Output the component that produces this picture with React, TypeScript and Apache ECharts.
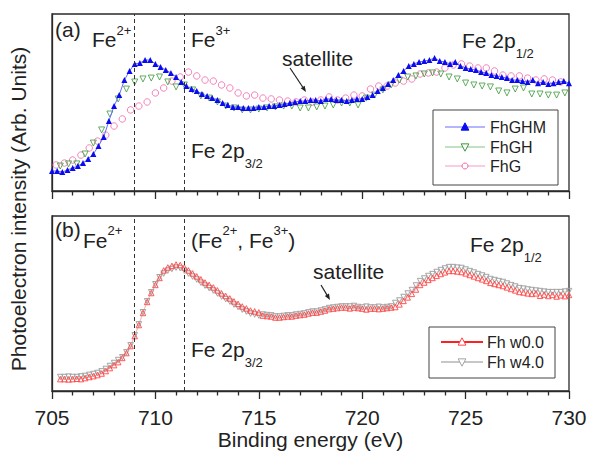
import React, { useEffect, useRef } from "react";
import * as echarts from "echarts";

const FONT = '"Liberation Sans", Arial, Helvetica, sans-serif';
const INK = "#222222";
const AXIS = "#2a2a2a";

const xMin = 705;
const xMax = 730;
const xStep = 5;
const xAxisName = "Binding energy (eV)";
const yAxisName = "Photoelectron intensity (Arb. Units)";

const fe2Edge = 709.0;
const fe3Edge = 711.4;

// Panel (a)
const fhghmStart = 705.0;
const fhghmStep = 0.25;
const fhghm = [
  11.3, 11.3, 10.7, 11.9, 13.0, 14.1, 15.8, 18.1, 20.9, 25.4,
  30.5, 39.5, 48.0, 54.2, 62.7, 67.8, 71.8, 72.3, 74.0, 74.0,
  71.8, 70.1, 68.4, 66.7, 64.4, 61.6, 59.3, 57.6, 56.5, 54.8,
  53.7, 52.5, 51.4, 49.7, 48.6, 47.5, 47.5, 46.9, 46.9, 46.9,
  47.5, 47.5, 48.0, 48.0, 48.6, 49.2, 49.7, 50.3, 50.8, 50.8,
  51.4, 51.4, 50.8, 52.0, 52.0, 51.4, 51.4, 50.8, 51.4, 52.0,
  52.0, 53.1, 54.2, 56.5, 58.2, 60.5, 62.7, 65.5, 67.8, 70.6,
  71.8, 72.9, 73.4, 74.0, 75.1, 73.4, 72.9, 71.8, 72.9, 70.6,
  69.5, 68.9, 68.4, 67.2, 66.7, 65.5, 65.0, 64.4, 63.8, 62.7,
  62.7, 62.1, 61.6, 62.7, 60.9, 61.6, 60.5, 60.9, 61.6, 62.1,
  60.9,
];

const fhghStart = 705.4;
const fhghStep = 0.4;
const fhgh = [
  14.1, 15.3, 15.3, 20.9, 27.1, 34.5, 43.5, 52.0, 57.6, 61.6,
  63.3, 63.8, 64.4, 61.6, 58.8, 59.9, 57.1, 53.7, 52.5, 50.3,
  48.0, 46.9, 45.8, 45.8, 46.3, 46.9, 47.5, 48.0, 48.0, 46.9,
  46.9, 47.5, 48.0, 48.6, 49.7, 49.7, 48.6, 52.5, 54.2, 57.1,
  59.9, 62.7, 64.4, 65.0, 66.1, 66.7, 66.1, 64.4, 63.3, 61.0,
  59.9, 59.3, 58.8, 56.5, 55.4, 57.6, 58.2, 54.8, 54.8, 54.2,
  54.2, 55.4,
];

const fhgStart = 705.2;
const fhgStep = 0.4;
const fhg = [
  14.7, 15.8, 17.5, 20.3, 24.3, 28.2, 31.6, 36.7, 40.7, 45.8,
  48.0, 50.3, 55.4, 58.2, 62.1, 64.4, 67.2, 65.0, 62.7, 62.1,
  59.9, 58.2, 55.4, 53.7, 54.2, 52.5, 52.0, 51.4, 50.8, 50.3,
  51.4, 50.3, 51.4, 53.1, 51.4, 52.5, 54.2, 53.7, 57.6, 59.3,
  59.3, 61.0, 62.1, 63.3, 66.1, 66.7, 67.2, 69.5, 71.2, 71.8,
  70.6, 69.5, 69.5, 67.8, 65.5, 65.0, 65.0, 63.8, 62.7, 63.3,
  62.7, 61.6,
];

// Panel (b)
const fhWStart = 705.4;
const fhWStep = 0.2;
const fhW00 = [
  6.8, 6.8, 6.6, 6.8, 7.0, 6.8, 7.4, 8.0, 8.5, 9.1,
  10.0, 11.4, 13.1, 14.8, 16.5, 18.9, 21.7, 25.7, 31.4, 37.7,
  44.6, 50.9, 56.0, 60.6, 64.6, 68.9, 70.6, 71.5, 72.3, 72.0,
  70.6, 68.9, 67.2, 65.5, 63.8, 62.0, 60.6, 59.2, 57.5, 55.8,
  54.3, 52.9, 51.2, 49.8, 48.3, 47.2, 46.0, 45.5, 44.9, 43.1,
  42.8, 42.6, 42.0, 42.0, 42.3, 42.6, 42.6, 43.1, 43.4, 43.7,
  44.3, 44.8, 44.8, 45.4, 46.0, 46.8, 47.1, 47.4, 47.7, 47.7,
  47.2, 47.7, 47.4, 47.1, 46.6, 47.1, 47.1, 46.8, 47.1, 47.4,
  47.7, 48.0, 49.5, 51.5, 53.5, 55.5, 58.0, 60.6, 62.0, 63.5,
  64.6, 65.8, 66.9, 67.8, 68.6, 68.6, 68.3, 68.0, 67.2, 66.3,
  65.5, 64.6, 63.8, 62.9, 61.8, 61.2, 60.6, 60.0, 59.2, 58.3,
  57.5, 56.6, 56.3, 55.8, 55.5, 55.8, 54.4, 55.1, 54.3, 54.9,
  54.0, 54.7, 54.2, 54.9,
];
const fhW40 = [
  8.0, 8.0, 8.2, 8.0, 8.0, 8.3, 8.6, 9.2, 9.7, 10.3,
  11.2, 12.6, 14.3, 16.0, 17.7, 19.3, 22.1, 26.1, 31.8, 38.1,
  45.0, 51.3, 56.4, 61.0, 65.0, 67.1, 68.8, 69.7, 70.5, 70.2,
  68.8, 67.1, 65.4, 63.7, 61.9, 60.2, 58.8, 57.4, 55.7, 54.0,
  52.5, 51.1, 49.4, 48.0, 46.5, 45.4, 44.2, 43.7, 43.1, 43.7,
  43.4, 43.2, 42.6, 42.6, 42.9, 43.2, 43.2, 43.7, 44.0, 44.3,
  44.9, 45.4, 45.4, 46.0, 46.6, 47.4, 47.7, 48.0, 48.3, 48.3,
  48.3, 48.6, 48.0, 47.7, 48.2, 47.7, 47.7, 48.1, 47.7, 48.0,
  48.3, 50.3, 51.7, 53.7, 55.7, 57.7, 60.3, 62.8, 64.3, 65.7,
  66.8, 68.0, 69.1, 70.0, 70.8, 70.8, 70.5, 70.3, 69.4, 68.5,
  67.7, 66.8, 66.0, 65.1, 64.0, 63.4, 62.8, 62.3, 61.4, 60.5,
  59.7, 58.8, 58.5, 58.0, 57.7, 57.4, 57.1, 56.8, 56.5, 56.5,
  56.5, 56.5, 56.8, 57.1,
];

const pairs = (start: number, step: number, vals: number[]) =>
  vals.map((v, i) => [Math.round((start + step * i) * 100) / 100, v]);

const C = {
  blue: "#0b0bef",
  blueLine: "#6a6aff",
  green: "#3a9a3a",
  greenLine: "#86c486",
  pink: "#f064a8",
  pinkLine: "#f59cc6",
  red: "#ff4646",
  redLine: "#ff2020",
  redData: "#ff9c9c",
  gray: "#a4a4a4",
  grayLine: "#b4b4b4",
  grayData: "#cfcfcf",
};

const richStyles = {
  sup: { fontSize: 13, lineHeight: 13, verticalAlign: "top", fill: INK, fontFamily: FONT },
  sub: { fontSize: 13, lineHeight: 13, verticalAlign: "bottom", fill: INK, fontFamily: FONT },
};

function label(x: number, y: number, text: string, lineHeight = 21, fontSize = 21) {
  return {
    type: "text",
    x,
    y,
    z: 60,
    silent: true,
    style: {
      text,
      fill: INK,
      fontSize,
      fontFamily: FONT,
      align: "left",
      verticalAlign: "middle",
      lineHeight,
      rich: richStyles,
    },
  };
}

function arrow(x1: number, y1: number, x2: number, y2: number) {
  const dx = x2 - x1;
  const dy = y2 - y1;
  const len = Math.sqrt(dx * dx + dy * dy);
  const ux = dx / len;
  const uy = dy / len;
  const hl = 6;
  const hw = 2.4;
  const bx = x2 - ux * hl;
  const by = y2 - uy * hl;
  return [
    {
      type: "line",
      z: 60,
      silent: true,
      shape: { x1, y1, x2: bx, y2: by },
      style: { stroke: INK, lineWidth: 1.2 },
    },
    {
      type: "polygon",
      z: 60,
      silent: true,
      shape: {
        points: [
          [x2, y2],
          [bx - uy * hw, by + ux * hw],
          [bx + uy * hw, by - ux * hw],
        ],
      },
      style: { fill: INK },
    },
  ];
}

function triUp(cx: number, cy: number, s: number, fill: string, stroke: string) {
  return {
    type: "polygon",
    z: 62,
    silent: true,
    shape: { points: [[cx, cy - s * 0.6], [cx - s * 0.55, cy + s * 0.45], [cx + s * 0.55, cy + s * 0.45]] },
    style: { fill, stroke, lineWidth: 1 },
  };
}
function triDown(cx: number, cy: number, s: number, fill: string, stroke: string) {
  return {
    type: "polygon",
    z: 62,
    silent: true,
    shape: { points: [[cx - s * 0.55, cy - s * 0.45], [cx + s * 0.55, cy - s * 0.45], [cx, cy + s * 0.6]] },
    style: { fill, stroke, lineWidth: 1 },
  };
}

function legendBox(x: number, y: number, w: number, h: number) {
  return {
    type: "rect",
    z: 55,
    silent: true,
    shape: { x, y, width: w, height: h },
    style: { fill: "#ffffff", stroke: "#444444", lineWidth: 1 },
  };
}
function legendLine(x1: number, x2: number, y: number, color: string, width: number) {
  return {
    type: "line",
    z: 61,
    silent: true,
    shape: { x1, y1: y, x2, y2: y },
    style: { stroke: color, lineWidth: width },
  };
}
function legendText(x: number, y: number, text: string) {
  return {
    type: "text",
    x,
    y,
    z: 62,
    silent: true,
    style: { text, fill: INK, fontSize: 16, fontFamily: FONT, align: "left", verticalAlign: "middle" },
  };
}

function buildOption() {
  const dashed = {
    silent: true,
    symbol: ["none", "none"],
    label: { show: false },
    lineStyle: { type: [4, 3], color: "#333333", width: 1 },
    data: [{ xAxis: fe2Edge }, { xAxis: fe3Edge }],
  };

  const xBase = {
    type: "value",
    min: xMin,
    max: xMax,
    interval: xStep,
    axisLine: { show: true, onZero: false, lineStyle: { color: AXIS, width: 1.3 } },
    axisTick: { show: true, inside: false, length: 8, lineStyle: { color: AXIS, width: 1.3 } },
    minorTick: { show: true, splitNumber: 5, length: 4.5, lineStyle: { color: AXIS, width: 1.3 } },
    splitLine: { show: false },
    minorSplitLine: { show: false },
  };
  const yBase = {
    type: "value",
    min: 0,
    max: 100,
    axisLine: { show: true, onZero: false, lineStyle: { color: AXIS, width: 1.3 } },
    axisTick: { show: false },
    axisLabel: { show: false },
    splitLine: { show: false },
  };

  const graphic: any[] = [
    {
      type: "text",
      x: 18,
      y: 209,
      rotation: Math.PI / 2,
      silent: true,
      style: { text: yAxisName, fill: INK, fontSize: 21, fontFamily: FONT, align: "center", verticalAlign: "middle" },
    },
    // panel (a)
    label(55, 29, "(a)"),
    label(92, 39.5, "Fe{sup|2+}", 32),
    label(191, 39.5, "Fe{sup|3+}", 32),
    label(282, 58, "satellite"),
    label(191, 150, "Fe 2p{sub|3/2}", 40),
    label(462, 40, "Fe 2p{sub|1/2}", 40),
    ...arrow(290, 68, 306, 92),
    // panel (b)
    label(55, 229, "(b)"),
    label(83, 240, "Fe{sup|2+}", 32),
    label(191, 240, "(Fe{sup|2+}, Fe{sup|3+})", 32),
    label(191, 349, "Fe 2p{sub|3/2}", 40),
    label(313, 271, "satellite"),
    label(470, 244, "Fe 2p{sub|1/2}", 40),
    ...arrow(321, 285, 330, 300),
    // legend (a)
    legendBox(433, 110, 125, 75),
    legendLine(445, 485, 127, C.blueLine, 1.2),
    triUp(465, 127, 7, C.blue, C.blue),
    legendText(490, 127, "FhGHM"),
    legendLine(445, 485, 147, C.greenLine, 1.2),
    triDown(465, 147, 7, "#ffffff", C.green),
    legendText(490, 147, "FhGH"),
    legendLine(445, 485, 166, C.pinkLine, 1.2),
    {
      type: "circle",
      z: 62,
      silent: true,
      shape: { cx: 465, cy: 166, r: 3 },
      style: { fill: "#ffffff", stroke: C.pink, lineWidth: 1 },
    },
    legendText(490, 166, "FhG"),
    // legend (b)
    legendBox(429, 327, 126, 51),
    legendLine(441, 483, 342, C.redLine, 2),
    triUp(462, 342, 7, "#ffffff", C.red),
    legendText(487, 342, "Fh w0.0"),
    legendLine(441, 483, 362, C.grayLine, 1.5),
    triDown(462, 362, 7, "#ffffff", C.gray),
    legendText(487, 362, "Fh w4.0"),
  ];

  return {
    animation: false,
    backgroundColor: "#ffffff",
    textStyle: { fontFamily: FONT },
    grid: [
      { left: 52, top: 14, width: 517, height: 177, show: true, borderColor: AXIS, borderWidth: 1.3, backgroundColor: "transparent" },
      { left: 52, top: 216, width: 517, height: 175, show: true, borderColor: AXIS, borderWidth: 1.3, backgroundColor: "transparent" },
    ],
    xAxis: [
      { ...xBase, gridIndex: 0, axisLabel: { show: false } },
      {
        ...xBase,
        gridIndex: 1,
        axisLabel: {
          show: true,
          fontSize: 21,
          color: INK,
          fontFamily: FONT,
          margin: 16,
          showMinLabel: true,
          showMaxLabel: true,
        },
        name: xAxisName,
        nameLocation: "middle",
        nameGap: 38,
        nameTextStyle: { fontSize: 21, color: INK, fontFamily: FONT },
      },
    ],
    yAxis: [
      { ...yBase, gridIndex: 0 },
      { ...yBase, gridIndex: 1 },
    ],
    series: [
      {
        name: "FhG",
        type: "scatter",
        xAxisIndex: 0,
        yAxisIndex: 0,
        data: pairs(fhgStart, fhgStep, fhg),
        symbol: "circle",
        symbolSize: 6.5,
        itemStyle: { color: "rgba(255,255,255,0)", borderColor: C.pink, borderWidth: 1 },
        markLine: dashed,
      },
      {
        name: "FhGH",
        type: "scatter",
        xAxisIndex: 0,
        yAxisIndex: 0,
        data: pairs(fhghStart, fhghStep, fhgh),
        symbol: "triangle",
        symbolRotate: 180,
        symbolSize: 6,
        itemStyle: { color: "rgba(255,255,255,0)", borderColor: C.green, borderWidth: 1 },
      },
      {
        name: "FhGHM",
        type: "line",
        xAxisIndex: 0,
        yAxisIndex: 0,
        data: pairs(fhghmStart, fhghmStep, fhghm),
        symbol: "triangle",
        symbolSize: 6,
        showAllSymbol: true,
        itemStyle: { color: C.blue },
        lineStyle: { color: C.blueLine, width: 1 },
      },
      {
        name: "Fh w4.0",
        type: "line",
        xAxisIndex: 1,
        yAxisIndex: 1,
        data: pairs(fhWStart, fhWStep, fhW40),
        symbol: "triangle",
        symbolRotate: 180,
        symbolSize: 5.5,
        showAllSymbol: true,
        itemStyle: { color: "rgba(255,255,255,0)", borderColor: C.gray, borderWidth: 1 },
        lineStyle: { color: C.grayData, width: 0.6 },
        markLine: dashed,
      },
      {
        name: "Fh w0.0",
        type: "line",
        xAxisIndex: 1,
        yAxisIndex: 1,
        data: pairs(fhWStart, fhWStep, fhW00),
        symbol: "triangle",
        symbolSize: 5.5,
        showAllSymbol: true,
        itemStyle: { color: "rgba(255,255,255,0)", borderColor: C.red, borderWidth: 0.9 },
        lineStyle: { color: C.redData, width: 0.6 },
      },
    ],
    graphic,
  };
}

export default function App() {
  const ref = useRef<HTMLDivElement>(null);
  useEffect(() => {
    if (!ref.current) return;
    const chart = echarts.init(ref.current, undefined, { renderer: "svg" });
    chart.setOption(buildOption() as any);
    return () => chart.dispose();
  }, []);
  return (
    <div
      ref={ref}
      style={{ position: "fixed", left: 0, top: 0, width: 590, height: 452, background: "#fff" }}
    />
  );
}
